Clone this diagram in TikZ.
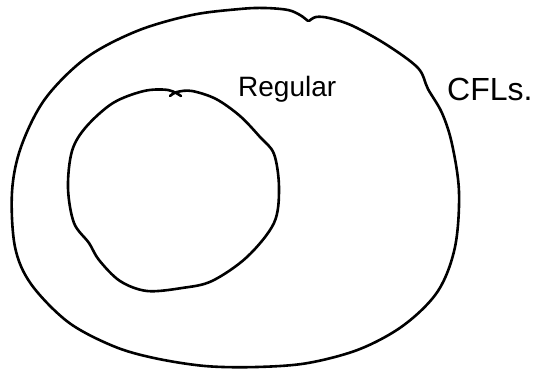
\documentclass[tikz,border=0pt]{standalone}
\usepackage{fontspec}
\setmainfont{Liberation Sans}
\usetikzlibrary{calc, positioning}

\tikzset{
  pen/.style={line width=2.6pt, black, line cap=round, line join=round},
  hand/.style={inner sep=0pt, font=\fontsize{28}{30}\selectfont}
}

\begin{document}
\begin{tikzpicture}[x=1pt, y=-1pt]
\def\tension{0.55}
\useasboundingbox (0,0) rectangle (536,369);

% outer set: context-free languages
\draw[pen] plot[smooth, tension=\tension] coordinates {
  (308,21) (300,15) (288,10) (265,8) (240,9) (192,15) (137,31) (86,58)
  (45,99) (21,147) (12,192) (15,247) (31,284) (68,322) (113,346) (154,358)
  (205,366) (257,367) (308,363) (360,349) (404,325) (438,291) (455,247)
  (459,192) (452,144) (442,113) (428,89) (418,68) (387,45) (353,26)
  (329,18) (316,17) (309,21)};

% inner set: regular languages
\draw[pen] plot[smooth, tension=\tension] coordinates {
  (170,96) (177,92) (192,91) (216,99) (240,116) (260,137) (274,154)
  (279,188) (274,223) (247,257) (212,281) (182,288) (147,291) (120,281)
  (99,260) (89,243) (74,223) (68,188) (72,151) (86,127) (113,103)
  (144,91) (168,90) (181,96)};

\node[hand, anchor=west] (regular) at (238,89) {Regular};
\node[hand, anchor=west, font=\fontsize{32}{34}\selectfont] (cfl) at (447,89) {CFLs.};
\end{tikzpicture}
\end{document}
